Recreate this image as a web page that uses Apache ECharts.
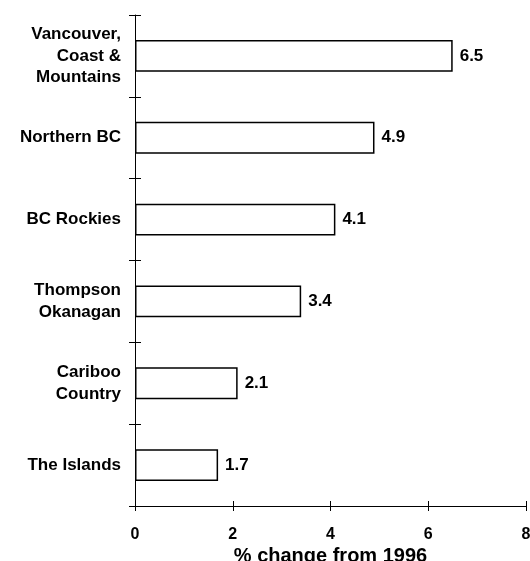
<!DOCTYPE html>
<html><head><meta charset="utf-8">
<script src="https://cdn.jsdelivr.net/npm/echarts@6/dist/echarts.min.js"></script>
<style>html,body{margin:0;padding:0;background:#fff}#c{width:530px;height:561px}</style>
</head><body><div id="c"></div>
<script>
var categories = ["Vancouver,\nCoast &\nMountains", "Northern BC", "BC Rockies", "Thompson\nOkanagan", "Cariboo\nCountry", "The Islands"];
var values = [6.5, 4.9, 4.1, 3.4, 2.1, 1.7];
var xTicks = { min: 0, max: 8, interval: 2 };
var xTitle = "% change from 1996";

var font = { fontFamily: "Liberation Sans, Arial, sans-serif", fontWeight: "bold", fontSize: 17, color: "#000" };
var chart = echarts.init(document.getElementById('c'), null, { renderer: 'canvas' });
chart.setOption({
  animation: false,
  grid: { left: 135, right: 4, top: 15, bottom: 55, outerBoundsMode: 'none', containLabel: false },
  xAxis: [{
    type: 'value', min: xTicks.min, max: xTicks.max, interval: xTicks.interval,
    position: 'bottom',
    axisLine: { show: true, lineStyle: { color: '#000', width: 1 } },
    axisTick: { show: true, inside: false, length: 5, lineStyle: { color: '#000' } },
    splitLine: { show: false },
    axisLabel: Object.assign({}, font, { margin: 21, fontSize: 16 }),
    name: xTitle, nameLocation: 'middle', nameGap: 10, nameMoveOverlap: false,
    nameTextStyle: Object.assign({}, font, { fontSize: 20, verticalAlign: 'top', padding: [30, 0, 0, 0] })
  }, {
    type: 'value', min: xTicks.min, max: xTicks.max, interval: xTicks.interval,
    position: 'bottom', offset: -5,
    axisLine: { show: false },
    axisTick: { show: true, inside: false, length: 10, lineStyle: { color: '#000' } },
    splitLine: { show: false }, axisLabel: { show: false }
  }],
  yAxis: [{
    type: 'category', data: categories, inverse: true, position: 'left',
    axisLine: { show: true, lineStyle: { color: '#000', width: 1 } },
    axisTick: { show: true, inside: false, length: 6, lineStyle: { color: '#000' } },
    axisLabel: Object.assign({ margin: 14, lineHeight: 21.5, align: 'right' }, font)
  }, {
    type: 'category', data: categories, inverse: true, position: 'left', offset: -6,
    axisLine: { show: false },
    axisTick: { show: true, inside: false, length: 12, lineStyle: { color: '#000' } },
    axisLabel: { show: false }
  }],
  series: [{
    type: 'bar', data: values, xAxisIndex: 0, yAxisIndex: 0,
    barWidth: '39%',
    itemStyle: { color: '#fff', borderColor: '#000', borderWidth: 1.5 },
    label: Object.assign({ show: true, position: 'right', distance: 7 }, font)
  }]
});
</script></body></html>
